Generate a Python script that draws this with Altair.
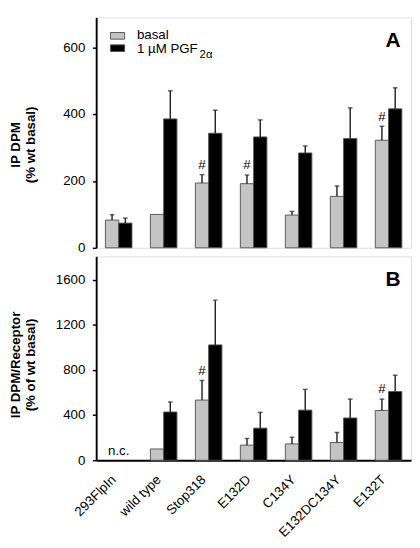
import altair as alt
import pandas as pd

FONT = "Liberation Sans"

categories = ["293FlpIn", "wild type", "Stop318", "E132D", "C134Y", "E132DC134Y", "E132T"]
series = ["basal", "pgf"]

# Panel A: IP DPM (% wt basal)
a_basal = [83, 100, 194, 192, 98, 154, 322]
a_basal_err = [99, None, 219, 218, 109, 185, 364]
a_pgf = [74, 386, 343, 332, 284, 327, 416]
a_pgf_err = [89, 470, 412, 383, 305, 419, 479]
a_hash = ["", "", "#", "#", "", "", "#"]

# Panel B: IP DPM/Receptor (% of wt basal)
b_basal = [None, 100, 534, 134, 145, 157, 442]
b_basal_err = [None, None, 708, 193, 204, 246, 543]
b_pgf = [None, 428, 1024, 285, 445, 375, 610]
b_pgf_err = [None, 517, 1421, 425, 629, 543, 755]
b_hash = ["", "", "#", "", "", "", "#"]
b_note = ["n.c.", "", "", "", "", "", ""]

legend_labels = ["basal", "1 \u00b5M PGF"]
legend_sub = "2\u03b1"


def long_df(basal, basal_err, pgf, pgf_err, hashes):
    rows = []
    for i, c in enumerate(categories):
        rows.append(dict(group=c, series="basal", value=basal[i], err=basal_err[i], mark=hashes[i]))
        rows.append(dict(group=c, series="pgf", value=pgf[i], err=pgf_err[i], mark=""))
    return pd.DataFrame(rows)


dfA = long_df(a_basal, a_basal_err, a_pgf, a_pgf_err, a_hash)
dfB = long_df(b_basal, b_basal_err, b_pgf, b_pgf_err, b_hash)
dfNote = pd.DataFrame({"group": categories, "note": b_note})

W = 332
HA = 243
HB = 215

xscale = alt.Scale(domain=categories, paddingInner=0.41, paddingOuter=0.205)
xoff = alt.XOffset("series:N", scale=alt.Scale(domain=series, paddingInner=0, paddingOuter=0))
color = alt.Color("series:N", scale=alt.Scale(domain=series, range=["#c4c4c4", "#000000"]), legend=None)


def panel(df, ydomain, yvalues, ytitle, letter, show_x, title_y):
    if show_x:
        xaxis = alt.Axis(title=None, labelAngle=-45, labelAlign="right", labelBaseline="middle",
                         labelPadding=18, labelOffset=-5, ticks=False, domainWidth=2,
                         domainColor="black", labelFont=FONT, labelFontSize=14, labelColor="black")
    else:
        xaxis = None
    x = alt.X("group:N", sort=categories, scale=xscale, axis=xaxis)
    yscale = alt.Scale(domain=ydomain, nice=False, zero=True)
    yaxis = alt.Axis(values=yvalues, format="d", title=ytitle, grid=False, tickSize=4, tickWidth=1.5,
                     tickColor="black", domainWidth=2, domainColor="black",
                     labelFont=FONT, labelFontSize=14, labelColor="black", labelPadding=8,
                     titleFont=FONT, titleFontSize=14, titleFontWeight="bold",
                     titleLineHeight=16, titleX=-78, titleY=title_y, titleColor="black")
    base = alt.Chart(df)
    bars = base.mark_bar(stroke="#555555", strokeWidth=1).encode(
        x=x, xOffset=xoff, y=alt.Y("value:Q", scale=yscale, axis=yaxis), color=color
    ).transform_filter("isValid(datum.value)")
    errs = base.mark_rule(color="#222222", strokeWidth=1.5).encode(
        x=x, xOffset=xoff, y=alt.Y("value:Q", axis=yaxis), y2="err:Q"
    ).transform_filter("isValid(datum.err)")
    caps = base.mark_tick(orient="horizontal", size=5, thickness=1.5, color="#222222").encode(
        x=x, xOffset=xoff, y=alt.Y("err:Q", axis=yaxis)
    ).transform_filter("isValid(datum.err)")
    hashes = base.mark_text(font=FONT, fontSize=14, baseline="bottom", dy=-3, color="black").encode(
        x=x, xOffset=xoff, y=alt.Y("err:Q", axis=yaxis), text="mark:N"
    ).transform_filter("datum.mark != ''")
    lab = alt.Chart(pd.DataFrame({"t": [letter]})).mark_text(
        font=FONT, fontSize=22, fontWeight="bold", align="right", baseline="alphabetic", color="black"
    ).encode(x=alt.value(W - 11), y=alt.value(31), text="t:N")
    return [bars, errs, caps, hashes, lab], x, yscale, yaxis


layersA, xA, ysA, yaA = panel(dfA, [0, 690], [0, 200, 400, 600], ["IP DPM", "(% wt basal)"], "A", False, 134)

leg_df = pd.DataFrame({"label": legend_labels, "series": series})
sq1 = alt.Chart(leg_df.iloc[[0]]).mark_rect(fill="#c4c4c4", stroke="#555555", strokeWidth=1).encode(
    x=alt.value(15), x2=alt.value(30), y=alt.value(16), y2=alt.value(23))
sq2 = alt.Chart(leg_df.iloc[[1]]).mark_rect(fill="#000000", stroke="#555555", strokeWidth=1).encode(
    x=alt.value(15), x2=alt.value(30), y=alt.value(29), y2=alt.value(36))
t1 = alt.Chart(leg_df.iloc[[0]]).mark_text(font=FONT, fontSize=14, align="left", baseline="middle", color="black").encode(
    x=alt.value(43), y=alt.value(18.5), text="label:N")
t2 = alt.Chart(leg_df.iloc[[1]]).mark_text(font=FONT, fontSize=14, align="left", baseline="middle", color="black").encode(
    x=alt.value(43), y=alt.value(33.5), text="label:N")
t3 = alt.Chart(pd.DataFrame({"s": [legend_sub]})).mark_text(font=FONT, fontSize=12, align="left", baseline="middle", color="black").encode(
    x=alt.value(109), y=alt.value(39), text="s:N")

chartA = alt.layer(*layersA, sq1, sq2, t1, t2, t3).properties(width=W, height=HA)

layersB, xB, ysB, yaB = panel(dfB, [0, 1810], [0, 400, 800, 1200, 1600],
                              ["IP DPM/Receptor", "(% of wt basal)"], "B", True, 114)
note = alt.Chart(dfNote).mark_text(font=FONT, fontSize=14, baseline="bottom", dy=-3, color="black").encode(
    x=alt.X("group:N", sort=categories, scale=xscale), y=alt.datum(0, scale=ysB, axis=yaB), text="note:N"
).transform_filter("datum.note != ''")
chartB = alt.layer(*layersB, note).properties(width=W, height=HB)

chart = alt.vconcat(chartA, chartB, spacing=0).properties(
    padding={"left": 0, "top": -6, "right": 0, "bottom": 0}
).configure_view(stroke="black", strokeWidth=1.5).configure(background="white").configure_axis(
    labelFont=FONT, labelFontSize=14, labelColor="black",
    titleFont=FONT, titleFontSize=14, titleFontWeight="bold", titleColor="black", titleLineHeight=16
)

chart.save("out.html", embed_options={"renderer": "svg", "actions": False})
